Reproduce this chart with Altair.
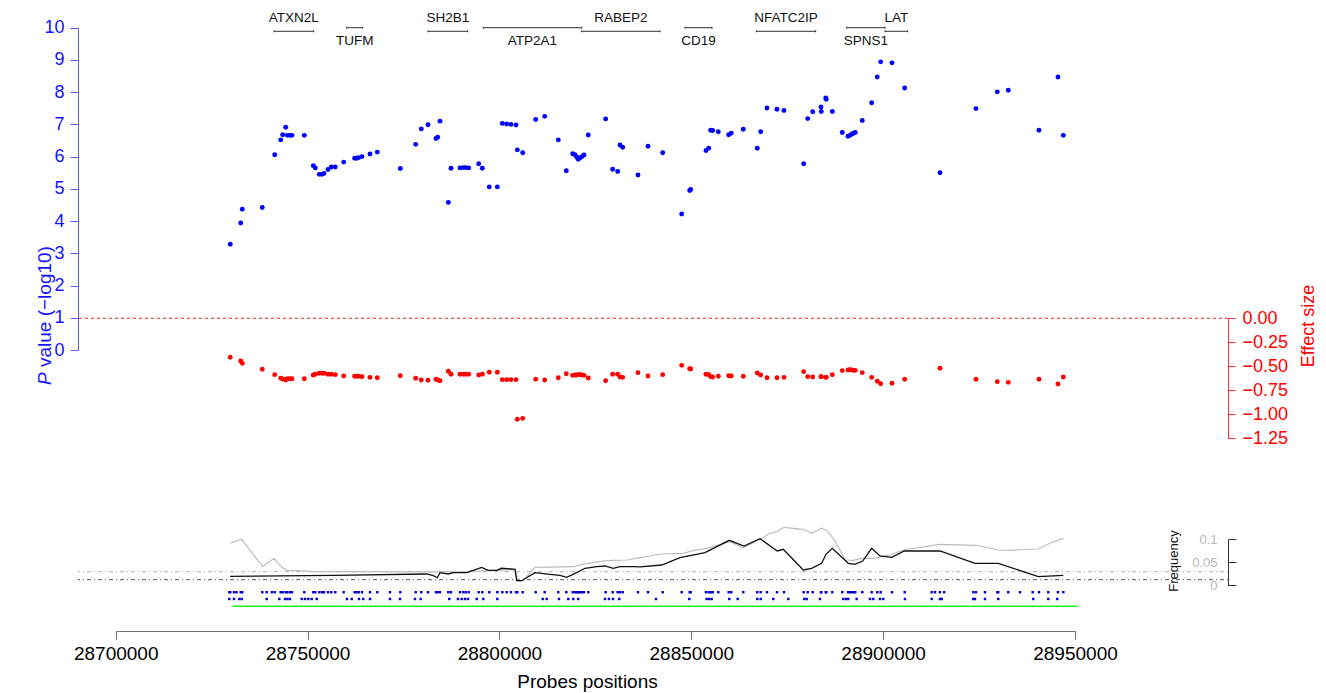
import altair as alt
import pandas as pd

BASE = 28_700_000  # positions below are kb offsets from this base

# ---------------- probes ----------------
PROBE_KB = [29.86, 32.58, 32.99, 38.20, 41.44, 43.00, 43.52, 44.30, 44.72, 45.42,
            45.94, 49.15, 51.49, 52.02, 53.06, 53.76, 54.28, 55.33, 56.19, 57.23,
            59.42, 62.28, 62.80, 63.33, 64.19, 66.27, 68.17, 74.17, 78.18, 79.64,
            81.39, 83.47, 83.91, 84.51, 86.68, 87.38, 89.72, 90.58, 91.21, 91.99,
            94.60, 95.54, 97.36, 99.45, 100.75, 101.89, 103.02, 104.32, 104.66, 106.06,
            109.45, 111.80, 115.34, 117.43, 119.09, 119.69, 120.14, 120.55, 121.00, 121.52,
            122.04, 123.16, 127.69, 129.52, 130.82, 131.42, 132.12, 136.11, 138.72, 142.55,
            147.50, 149.58, 149.85, 153.83, 154.54, 155.06, 155.58, 157.04, 159.75, 160.43,
            163.55, 167.20, 168.09, 169.73, 172.33, 174.16, 179.29, 180.34, 181.64, 183.80,
            183.88, 185.03, 185.18, 186.75, 189.35, 190.84, 191.36, 191.88, 192.32, 192.74,
            194.56, 197.01, 198.47, 199.36, 202.30, 205.61, 214.81, 224.19, 229.75, 232.61,
            240.61, 245.56, 246.95]

PVAL = [3.28, 3.94, 4.37, 4.42, 6.06, 6.52, 6.68, 6.91, 6.66, 6.66,
        6.66, 6.66, 5.72, 5.65, 5.45, 5.45, 5.48, 5.60, 5.68, 5.68,
        5.83, 5.95, 5.95, 5.97, 6.00, 6.08, 6.14, 5.63, 6.38, 6.86,
        6.99, 6.56, 6.60, 7.10, 4.58, 5.64, 5.65, 5.66, 5.66, 5.65,
        5.78, 5.64, 5.06, 5.06, 7.03, 7.01, 7.00, 6.98, 6.21, 6.12,
        7.15, 7.25, 6.52, 5.56, 6.09, 6.06, 5.99, 5.92, 5.96, 6.00,
        6.05, 6.67, 7.17, 5.61, 5.54, 6.36, 6.29, 5.43, 6.32, 6.12,
        4.22, 4.95, 4.98, 6.19, 6.26, 6.82, 6.81, 6.77, 6.68, 6.73,
        6.85, 6.26, 6.77, 7.51, 7.47, 7.43, 5.78, 7.18, 7.39, 7.54,
        7.40, 7.82, 7.78, 7.40, 6.75, 6.63, 6.66, 6.70, 6.73, 6.75,
        7.12, 7.67, 8.47, 8.94, 8.91, 8.13, 5.50, 7.49, 8.01, 8.06,
        6.82, 8.47, 6.66]

EFFECT = [-0.406, -0.445, -0.469, -0.531, -0.587, -0.625, -0.632, -0.643, -0.629, -0.629,
          -0.629, -0.629, -0.590, -0.583, -0.573, -0.573, -0.573, -0.583, -0.583, -0.587,
          -0.601, -0.604, -0.604, -0.604, -0.608, -0.615, -0.619, -0.598, -0.625, -0.643,
          -0.646, -0.635, -0.643, -0.650, -0.552, -0.583, -0.583, -0.583, -0.583, -0.583,
          -0.590, -0.583, -0.562, -0.562, -0.639, -0.639, -0.639, -0.639, -1.052, -1.042,
          -0.635, -0.643, -0.619, -0.577, -0.594, -0.590, -0.590, -0.587, -0.587, -0.590,
          -0.594, -0.622, -0.650, -0.583, -0.583, -0.611, -0.615, -0.566, -0.601, -0.587,
          -0.490, -0.525, -0.528, -0.583, -0.587, -0.608, -0.611, -0.604, -0.598, -0.601,
          -0.604, -0.570, -0.590, -0.619, -0.619, -0.615, -0.556, -0.608, -0.611, -0.608,
          -0.608, -0.615, -0.615, -0.587, -0.545, -0.538, -0.535, -0.538, -0.542, -0.542,
          -0.566, -0.615, -0.656, -0.681, -0.677, -0.635, -0.521, -0.635, -0.660, -0.667,
          -0.635, -0.684, -0.611]

# ---------------- frequency curves ----------------
GRAY_KB = [29.79, 32.84, 38.31, 41.25, 43.26, 44.72, 48.03, 51.49, 63.66, 82.77,
           91.47, 104.06, 104.92, 106.22, 109.27, 119.25, 122.74, 127.95, 133.17, 136.63,
           139.24, 141.85, 147.92, 150.52, 154.01, 160.09, 163.55, 167.90, 170.51, 172.26,
           174.16, 179.19, 181.38, 183.98, 185.29, 187.01, 188.75, 190.06, 192.22, 194.41,
           197.43, 201.78, 205.25, 214.81, 224.38, 230.00, 233.05, 240.43, 243.48, 246.95]
GRAY_F = [0.0913, 0.1000, 0.0404, 0.0587, 0.0390, 0.0326, 0.0317, 0.0296, 0.0296, 0.0290,
          0.0296, 0.0348, 0.0093, 0.0100, 0.0390, 0.0404, 0.0478, 0.0535, 0.0550, 0.0600,
          0.0637, 0.0680, 0.0696, 0.0752, 0.0804, 0.0948, 0.0817, 0.1000, 0.1130, 0.1165,
          0.1260, 0.1217, 0.1130, 0.1240, 0.1187, 0.1020, 0.0767, 0.0550, 0.0543, 0.0587,
          0.0587, 0.0659, 0.0767, 0.0891, 0.0870, 0.0767, 0.0761, 0.0789, 0.0913, 0.1020]

BLACK_KB = [29.79, 56.71, 81.05, 82.77, 83.81, 84.51, 86.68, 87.98, 91.47, 93.19,
            95.38, 97.10, 99.29, 100.59, 104.06, 104.50, 105.80, 109.27, 113.18, 115.78,
            117.53, 120.14, 122.30, 125.35, 127.51, 129.67, 131.42, 134.89, 136.63, 142.29,
            147.06, 153.57, 159.90, 163.73, 167.90, 172.41, 173.98, 179.19, 181.38, 183.98,
            185.10, 186.75, 190.92, 192.66, 194.67, 197.01, 199.18, 202.23, 205.51, 214.81,
            223.93, 230.00, 240.43, 246.95]
BLACK_F = [0.0196, 0.0217, 0.0246, 0.0209, 0.0165, 0.0274, 0.0246, 0.0274, 0.0274, 0.0326,
           0.0390, 0.0326, 0.0326, 0.0370, 0.0348, 0.0100, 0.0100, 0.0274, 0.0239, 0.0217,
           0.0174, 0.0274, 0.0370, 0.0404, 0.0420, 0.0370, 0.0404, 0.0404, 0.0400, 0.0441,
           0.0600, 0.0709, 0.0978, 0.0854, 0.1013, 0.0746, 0.0783, 0.0333, 0.0370, 0.0478,
           0.0674, 0.0804, 0.0478, 0.0457, 0.0528, 0.0804, 0.0637, 0.0609, 0.0746, 0.0746,
           0.0478, 0.0478, 0.0187, 0.0217]

THRESH_F = [0.0296, 0.0122]
THRESH_NAME = ["light", "dark"]

# ---------------- genes ----------------
GENE_NAME = ["ATXN2L", "TUFM", "SH2B1", "ATP2A1", "RABEP2", "CD19", "NFATC2IP", "SPNS1", "LAT"]
GENE_START_KB = [41.25, 60.20, 81.39, 95.80, 121.44, 148.36, 166.94, 190.50, 200.48]
GENE_END_KB = [51.60, 64.37, 91.73, 121.44, 141.85, 155.40, 182.42, 200.48, 206.40]
GENE_ROW = ["upper", "lower", "upper", "lower", "upper", "lower", "upper", "lower", "upper"]

# ---------------- probe / marker rows ----------------
ROW1_EXTRA_KB = [29.60, 30.83, 31.48, 39.35, 40.70, 71.48, 212.65, 213.50, 215.90,
                 223.49, 226.54, 230.00, 235.66, 238.97, 243.04]
ROW2_KB = [29.60, 30.83, 32.21, 32.84, 39.35, 42.63, 44.12, 44.77, 45.42, 48.47,
           49.33, 50.19, 51.08, 52.38, 60.28, 61.50, 63.40, 64.52, 66.27, 71.48,
           74.09, 78.00, 79.48, 86.94, 89.20, 90.17, 91.03, 91.81, 94.08, 95.80,
           99.45, 111.28, 112.32, 115.52, 117.95, 119.25, 120.55, 127.51, 128.55, 129.60,
           131.24, 140.80, 149.48, 154.01, 154.67, 155.32, 159.90, 162.09, 167.20, 168.09,
           171.37, 175.28, 179.45, 180.07, 183.54, 189.61, 190.32, 190.92, 193.10, 196.57,
           197.43, 199.18, 200.04, 205.69, 212.65, 214.81, 215.26, 223.49, 223.93, 226.54,
           230.00, 239.13, 243.04, 245.38]
GREEN_KB = [30.40, 250.60]

X_TICKS = [28700000, 28750000, 28800000, 28850000, 28900000, 28950000]
P_TICKS = [0, 1, 2, 3, 4, 5, 6, 7, 8, 9, 10]
E_TICKS = [0.0, -0.25, -0.5, -0.75, -1.0, -1.25]
F_TICKS = [0.0, 0.05, 0.1]


def bp(kb_list):
    return [BASE + round(k * 1000) for k in kb_list]


FONT = "Liberation Sans"

probes = pd.DataFrame({"pos": bp(PROBE_KB), "p": PVAL, "eff": EFFECT})
gray = pd.DataFrame({"pos": bp(GRAY_KB), "f": GRAY_F})
black = pd.DataFrame({"pos": bp(BLACK_KB), "f": BLACK_F})
thr = pd.DataFrame({"f": THRESH_F, "name": THRESH_NAME})
genes = pd.DataFrame({"gene": GENE_NAME, "start": bp(GENE_START_KB),
                      "end": bp(GENE_END_KB), "row": GENE_ROW})
genes["mid"] = (genes["start"] + genes["end"]) / 2
row1 = pd.DataFrame({"pos": sorted(bp(PROBE_KB) + bp(ROW1_EXTRA_KB))})
row2 = pd.DataFrame({"pos": bp(ROW2_KB)})
green = pd.DataFrame({"start": [bp(GREEN_KB)[0]], "end": [bp(GREEN_KB)[1]]})

# ---------------- scales / axes ----------------
xs = alt.Scale(domain=[X_TICKS[0], X_TICKS[-1]], range=[37.7, 997], nice=False, zero=False)
x_axis = alt.Axis(orient="bottom", values=X_TICKS, format="d", tickSize=8, labelPadding=5,
                  labelFontSize=19, labelColor="#000000", domainColor="#707070",
                  tickColor="#707070", grid=False, title=None, labelFont=FONT, labelFlush=False)

p_scale = alt.Scale(domain=[0, 10], range=[342, 19.7], nice=False, zero=False)
p_axis = alt.Axis(orient="left", values=P_TICKS, format="d", tickSize=8, labelPadding=6,
                  labelFontSize=18, labelColor="#1414ff", domainColor="#5a5aff",
                  tickColor="#5a5aff", grid=False, title=None, labelFont=FONT)

e_scale = alt.Scale(domain=[-1.25, 0], range=[430.3, 310.3], nice=False, zero=False)
e_axis = alt.Axis(orient="right", values=E_TICKS, format=".2f", tickSize=7, labelPadding=7,
                  labelFontSize=18, labelColor="#ff0000", domainColor="#ff3030",
                  tickColor="#ff3030", grid=False, title=None, labelFont=FONT)

f_scale = alt.Scale(domain=[0, 0.1], range=[577.3, 531.3], nice=False, zero=False)
f_axis = alt.Axis(orient="right", values=F_TICKS, format="~g", tickSize=8, labelPadding=-19,
                  labelAlign="right", labelFontSize=13, labelColor="#b8b8b8",
                  domainColor="#333333", tickColor="#333333", grid=False, title=None,
                  labelFont=FONT)

X = alt.X("pos:Q", scale=xs, axis=x_axis)

# ---------------- P-value layer ----------------
p_layer = alt.Chart(probes).mark_circle(size=24, color="#0000ff", opacity=1).encode(
    x=X, y=alt.Y("p:Q", scale=p_scale, axis=p_axis))

# ---------------- effect layer ----------------
e_rule = alt.Chart(pd.DataFrame({"v": [0.0]})).mark_rule(
    color="#ff2020", strokeDash=[3, 3], strokeWidth=1).encode(
    y=alt.Y("v:Q", scale=e_scale, axis=e_axis))
e_pts = alt.Chart(probes).mark_circle(size=24, color="#ff0000", opacity=1).encode(
    x=X, y=alt.Y("eff:Q", scale=e_scale, axis=e_axis))
e_layer = alt.layer(e_rule, e_pts)

# ---------------- frequency layer ----------------
f_thr = alt.Chart(thr).mark_rule(strokeDash=[1, 3, 4, 3], strokeWidth=1).encode(
    y=alt.Y("f:Q", scale=f_scale, axis=f_axis),
    color=alt.Color("name:N", scale=alt.Scale(domain=THRESH_NAME, range=["#b0b0b0", "#555555"]),
                    legend=None))
f_gray = alt.Chart(gray).mark_line(color="#bdbdbd", strokeWidth=1.2).encode(
    x=X, y=alt.Y("f:Q", scale=f_scale, axis=f_axis))
f_black = alt.Chart(black).mark_line(color="#111111", strokeWidth=1.3).encode(
    x=X, y=alt.Y("f:Q", scale=f_scale, axis=f_axis))
f_layer = alt.layer(f_thr, f_gray, f_black)

# ---------------- annotation layer (no y scale) ----------------
up = genes[genes["row"] == "upper"]
lo = genes[genes["row"] == "lower"]
gx = alt.X("start:Q", scale=xs, axis=x_axis)
g_up = alt.Chart(up).mark_rule(color="#333333", strokeWidth=1).encode(
    x=gx, x2="end:Q", y=alt.value(23.3))
g_lo = alt.Chart(lo).mark_rule(color="#333333", strokeWidth=1).encode(
    x=gx, x2="end:Q", y=alt.value(19.7))
cap_up = alt.Chart(up).transform_fold(["start", "end"], as_=["k", "edge"]).mark_rule(
    color="#333333").encode(x=alt.X("edge:Q", scale=xs, axis=x_axis),
                            y=alt.value(22.3), y2=alt.value(24.3))
cap_lo = alt.Chart(lo).transform_fold(["start", "end"], as_=["k", "edge"]).mark_rule(
    color="#333333").encode(x=alt.X("edge:Q", scale=xs, axis=x_axis),
                            y=alt.value(18.7), y2=alt.value(20.7))
t_up = alt.Chart(up).mark_text(fontSize=13.5, font=FONT, color="#111111", baseline="middle").encode(
    x=alt.X("mid:Q", scale=xs, axis=x_axis), y=alt.value(9.5), text="gene:N")
t_lo = alt.Chart(lo).mark_text(fontSize=13.5, font=FONT, color="#111111", baseline="middle").encode(
    x=alt.X("mid:Q", scale=xs, axis=x_axis), y=alt.value(32.6), text="gene:N")

m1 = alt.Chart(row1).mark_square(size=6, color="#0000cc", opacity=1).encode(
    x=X, y=alt.value(584.2))
m2 = alt.Chart(row2).mark_square(size=6, color="#0000cc", opacity=1).encode(
    x=X, y=alt.value(591.0))
g_line = alt.Chart(green).mark_rule(color="#22ee22", strokeWidth=1.5).encode(
    x=alt.X("start:Q", scale=xs, axis=x_axis), x2="end:Q", y=alt.value(598.3))

titles = pd.DataFrame({"t": ["P"]})
t_p = alt.Chart(titles).mark_text(fontSize=19, font=FONT, fontStyle="italic", color="#1414ff",
                                  angle=270, align="left", baseline="middle").encode(
    x=alt.value(-33), y=alt.value(377), text="t:N")
t_val = alt.Chart(pd.DataFrame({"t": ["value (\u2212log10)"]})).mark_text(
    fontSize=19, font=FONT, color="#1414ff", angle=270, align="left", baseline="middle").encode(
    x=alt.value(-33), y=alt.value(359), text="t:N")
t_eff = alt.Chart(pd.DataFrame({"t": ["Effect size"]})).mark_text(
    fontSize=18, font=FONT, color="#ff0000", angle=270, align="center", baseline="middle").encode(
    x=alt.value(1231), y=alt.value(318), text="t:N")
t_freq = alt.Chart(pd.DataFrame({"t": ["Frequency"]})).mark_text(
    fontSize=13, font=FONT, color="#111111", angle=270, align="center", baseline="middle").encode(
    x=alt.value(1096), y=alt.value(553), text="t:N")
t_x = alt.Chart(pd.DataFrame({"t": ["Probes positions"]})).mark_text(
    fontSize=19, font=FONT, color="#000000", align="center", baseline="middle").encode(
    x=alt.value(509.5), y=alt.value(674), text="t:N")

overlay = alt.layer(g_up, g_lo, cap_up, cap_lo, t_up, t_lo, m1, m2, g_line,
                    t_p, t_val, t_eff, t_freq, t_x)

chart = alt.layer(f_layer, overlay, e_layer, p_layer).resolve_scale(y="independent").properties(
    width=1150, height=623,
    autosize=alt.AutoSizeParams(type="none"),
    padding={"left": 70, "top": 0, "right": 90, "bottom": 62},
).configure(font=FONT).configure_view(stroke=None)

chart.save("out.html", embed_options={"renderer": "svg", "actions": False})
